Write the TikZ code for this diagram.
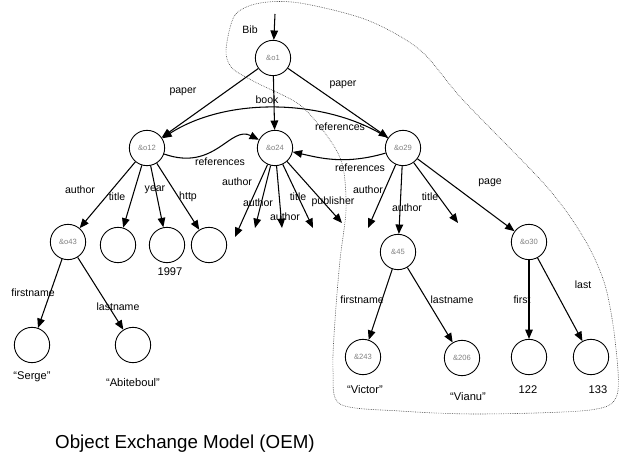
\documentclass[tikz,border=0pt]{standalone}
\usepackage{fontspec}
\setmainfont{Liberation Sans}
\usetikzlibrary{arrows.meta}
\tikzset{
  obj/.style={circle, draw, line width=0.75pt, minimum size=1.06cm, inner sep=0pt,
    font=\fontsize{6.5}{7}\selectfont, text=black!50},
  arr/.style={-{Triangle[length=8pt,width=6.5pt]}, line width=0.9pt},
  lbl/.style={font=\fontsize{9}{10}\selectfont, inner sep=0.5pt},
  val/.style={font=\fontsize{9.5}{11}\selectfont, inner sep=0.5pt},
}
\begin{document}
\begin{tikzpicture}[x=0.03cm, y=-0.03cm]
  \useasboundingbox (0,0) rectangle (620,456);
  % objects
  \node[obj] (o1) at (273,58) {\&o1};
  \node[obj] (o12) at (147,148) {\&o12};
  \node[obj] (o24) at (275,148) {\&o24};
  \node[obj] (o29) at (403,148) {\&o29};
  \node[obj] (o43) at (68,242) {\&o43};
  \node[obj] (t12) at (118,245) {};
  \node[obj] (y12) at (167,245) {};
  \node[obj] (h12) at (209,245) {};
  \node[obj] (o45) at (398,252) {\&45};
  \node[obj] (o30) at (529,242) {\&o30};
  \node[obj] (fn43) at (32,345) {};
  \node[obj] (ln43) at (133,345) {};
  \node[obj] (fn45) at (363,357) {\&243};
  \node[obj] (ln45) at (462,358) {\&206};
  \node[obj] (f30) at (529,357) {};
  \node[obj] (l30) at (591,357) {};
  % free ends
  \coordinate (bib) at (275,14);
  \coordinate (a1) at (235,237);
  \coordinate (a2) at (255,228);
  \coordinate (a3) at (282,228);
  \coordinate (a4) at (313,228);
  \coordinate (a5) at (342,223);
  \coordinate (b1) at (368,228);
  \coordinate (b2) at (458,223);
  % edges
  \draw[arr] (bib) -- (o1);
  \draw[arr] (o1) -- (o12);
  \draw[arr] (o1) -- (o24);
  \draw[arr] (o1) -- (o29);
  \draw[arr] (o29) .. controls (330,100) and (230,95) .. (o12);
  \draw[arr] (o12) .. controls (215,172) and (230,125) .. (o24);
  \draw[arr] (o29) .. controls (345,165) and (320,158) .. (o24);
  \draw[arr] (o12) -- (o43);
  \draw[arr] (o12) -- (t12);
  \draw[arr] (o12) -- (y12);
  \draw[arr] (o12) -- (h12);
  \draw[arr] (o24) -- (a1);
  \draw[arr] (o24) -- (a2);
  \draw[arr] (o24) -- (a3);
  \draw[arr] (o24) -- (a4);
  \draw[arr] (o24) -- (a5);
  \draw[arr] (o29) -- (b1);
  \draw[arr] (o29) -- (o45);
  \draw[arr] (o29) -- (b2);
  \draw[arr] (o29) -- (o30);
  \draw[arr] (o43) -- (fn43);
  \draw[arr] (o43) -- (ln43);
  \draw[arr] (o45) -- (fn45);
  \draw[arr] (o45) -- (ln45);
  \draw[arr] (o30) -- (f30);
  \draw[arr] (o30) -- (l30);
  % labels
  \node[lbl] (lbib) at (250,30) {Bib};
  \node[lbl] (lp1) at (183,92) {paper};
  \node[lbl] (lbook) at (267,100) {book};
  \node[lbl] (lp2) at (343,85) {paper};
  \node[lbl] (lr1) at (340,127) {references};
  \node[lbl] (lr2) at (220,162) {references};
  \node[lbl] (lr3) at (360,168) {references};
  \node[lbl] (la12) at (80,190) {author};
  \node[lbl] (lt12) at (117,197) {title};
  \node[lbl] (ly12) at (155,190) {year};
  \node[lbl] (lh12) at (188,197) {http};
  \node[lbl] (la1) at (237,182) {author};
  \node[lbl] (la2) at (258,203) {author};
  \node[lbl] (la3) at (285,217) {author};
  \node[lbl] (lt24) at (298,197) {title};
  \node[lbl] (lpub) at (333,202) {publisher};
  \node[lbl] (lb1) at (368,190) {author};
  \node[lbl] (lb2) at (407,208) {author};
  \node[lbl] (lt29) at (430,197) {title};
  \node[lbl] (lpage) at (490,183) {page};
  \node[lbl] (lfn43) at (33,293) {firstname};
  \node[lbl] (lln43) at (118,307) {lastname};
  \node[lbl] (lfn45) at (362,300) {firstname};
  \node[lbl] (lln45) at (452,300) {lastname};
  \node[lbl] (lf30) at (522,300) {first};
  \node[lbl] (ll30) at (583,285) {last};
  % values
  \node[val] (v1997) at (170,272) {1997};
  \node[val] (vserge) at (32,377) {``Serge''};
  \node[val] (vabit) at (133,383) {``Abiteboul''};
  \node[val] (vvict) at (365,390) {``Victor''};
  \node[val] (vvian) at (468,397) {``Vianu''};
  \node[val] (v122) at (528,390) {122};
  \node[val] (v133) at (598,390) {133};
  % region
  \draw[black!75, line width=0.5pt, dash pattern=on 0.6pt off 0.9pt] plot[smooth cycle] coordinates {
    (226,50) (235,15) (260,3) (300,3) (367,20) (420,50) (463,100) (547,187)
    (585,240) (605,285) (615,340) (617,395) (590,410) (480,414) (400,411)
    (340,404) (333,370) (335,320) (340,260) (346,210) (343,167) (330,140)
    (300,105) (255,82) (232,68)};
  \node[anchor=base west, font=\fontsize{16}{19}\selectfont, inner sep=0pt] (title) at (55,448) {Object Exchange Model (OEM)};
\end{tikzpicture}
\end{document}
